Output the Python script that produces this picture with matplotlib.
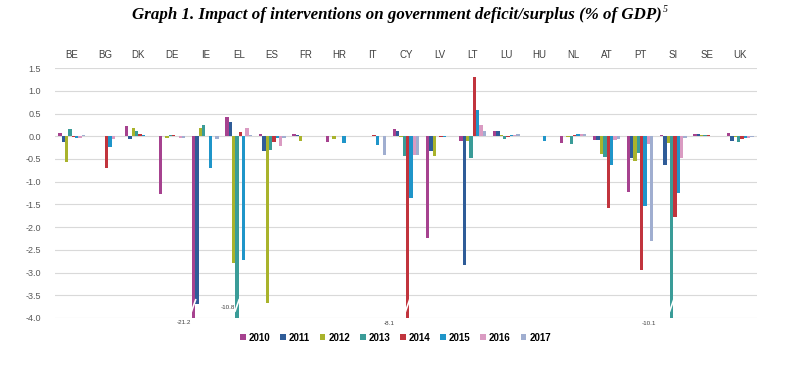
import numpy as np
import matplotlib.pyplot as plt
from matplotlib.ticker import FormatStrFormatter

plt.rcParams['font.family'] = ['Liberation Sans', 'DejaVu Sans']
plt.rcParams['axes.unicode_minus'] = False

countries = ["BE", "BG", "DK", "DE", "IE", "EL", "ES", "FR", "HR", "IT", "CY",
             "LV", "LT", "LU", "HU", "NL", "AT", "PT", "SI", "SE", "UK"]
years = ["2010", "2011", "2012", "2013", "2014", "2015", "2016", "2017"]

v2010 = [0.08, 0.0, 0.23, -1.27, -21.2, 0.43, 0.06, 0.04, -0.13, 0.01, 0.15,
         -2.25, -0.11, 0.12, 0.0, -0.16, -0.09, -1.22, 0.02, 0.06, 0.07]
v2011 = [-0.12, 0.0, -0.06, 0.01, -3.70, 0.31, -0.33, 0.02, 0.0, 0.01, 0.12,
         -0.33, -2.83, 0.12, 0.0, 0.0, -0.09, -0.47, -0.63, 0.05, -0.10]
v2012 = [-0.57, 0.0, 0.19, -0.04, 0.19, -2.78, -3.68, -0.10, -0.07, 0.0, -0.02,
         -0.44, -0.11, 0.03, 0.01, -0.01, -0.40, -0.54, -0.16, 0.03, -0.02]
v2013 = [0.16, 0.0, 0.12, 0.03, 0.24, -10.8, -0.31, 0.01, 0.0, 0.0, -0.44,
         0.0, -0.49, -0.06, 0.01, -0.17, -0.45, -0.38, -10.1, 0.03, -0.13]
v2014 = [-0.02, -0.70, 0.05, 0.02, 0.0, 0.09, -0.12, 0.0, 0.0, 0.02, -8.1,
         -0.01, 1.31, -0.02, 0.0, 0.02, -1.59, -2.95, -1.77, 0.02, -0.07]
v2015 = [-0.03, -0.24, 0.03, 0.0, -0.69, -2.72, -0.05, 0.0, -0.155, -0.20, -1.37,
         -0.02, 0.58, 0.03, -0.11, 0.05, -0.63, -1.54, -1.26, 0.01, -0.05]
v2016 = [-0.04, -0.06, 0.01, -0.05, 0.0, 0.19, -0.21, 0.01, 0.0, 0.0, -0.41,
         0.01, 0.24, 0.03, 0.0, 0.05, -0.08, -0.18, -0.48, 0.01, -0.04]
v2017 = [0.03, 0.0, 0.01, -0.05, -0.06, 0.02, -0.03, 0.0, 0.0, -0.41, -0.41,
         0.0, 0.12, 0.05, 0.0, 0.05, -0.07, -2.31, -0.03, 0.0, -0.02]

series = [v2010, v2011, v2012, v2013, v2014, v2015, v2016, v2017]
colors = ["#A6428F", "#2F5C98", "#A9B32C", "#3A9C98",
          "#C1343D", "#1F95C9", "#DA9BC2", "#A0AED0"]

# bars cut at the bottom of the axis, with the real value written next to them
breaks = [("IE", "2010"), ("EL", "2013"), ("CY", "2014"), ("SI", "2013")]
break_text_pos = [(-0.30, -4.10), (-0.27, -3.76), (-0.55, -4.12), (-0.68, -4.12)]

fig = plt.figure(figsize=(8.07, 3.68), dpi=100)
ax = fig.add_axes([0.068, 0.136, 0.870, 0.679])

x = np.arange(len(countries))
w = 0.1
for i, vals in enumerate(series):
    ax.bar(x + (i - 3.5) * w, vals, w, color=colors[i], label=years[i], zorder=3)

ax.set_xlim(-0.5, len(countries) - 0.5)
ax.set_ylim(-4, 1.5)
ax.set_yticks(np.arange(-4, 1.51, 0.5))
ax.yaxis.set_major_formatter(FormatStrFormatter('%.1f'))
ax.grid(axis='y', color='#d9d9d9', lw=0.8, zorder=0)
for s in ax.spines.values():
    s.set_visible(False)
ax.xaxis.tick_top()
ax.set_xticks(x, countries)
ax.tick_params(axis='x', length=0, pad=6, labelsize=7, colors='#404040')
ax.tick_params(axis='y', length=0, pad=10, labelsize=6.5, colors='#595959')

for (c, y), (dx, ty) in zip(breaks, break_text_pos):
    ci = countries.index(c)
    yi = years.index(y)
    bx = ci + (yi - 3.5) * w
    ax.plot([bx - w * 0.6, bx + w * 0.6], [-3.85, -3.6], color='white', lw=1.2, zorder=4)
    ax.text(bx + dx, ty, "%.1f" % series[yi][ci], fontsize=4.5, color='#404040',
            ha='center', va='center', clip_on=False)

title = fig.text(0.492, 0.960,
                 "Graph 1. Impact of interventions on government deficit/surplus (% of GDP)",
                 family='Liberation Serif', weight='bold', style='italic',
                 fontsize=12.2, ha='center', va='center')
ax.annotate("5", xy=(1, 1), xycoords=title, xytext=(1, 1), textcoords='offset points',
            family='Liberation Serif', style='italic', fontsize=7, ha='left', va='top')

fig.legend(loc='center', bbox_to_anchor=(0.49, 0.082), ncol=8, frameon=False,
           prop={'size': 7, 'weight': 'bold'}, handlelength=0.6, handleheight=0.6,
           handletextpad=0.3, columnspacing=1.0)

fig.savefig('out.png', dpi=100)
